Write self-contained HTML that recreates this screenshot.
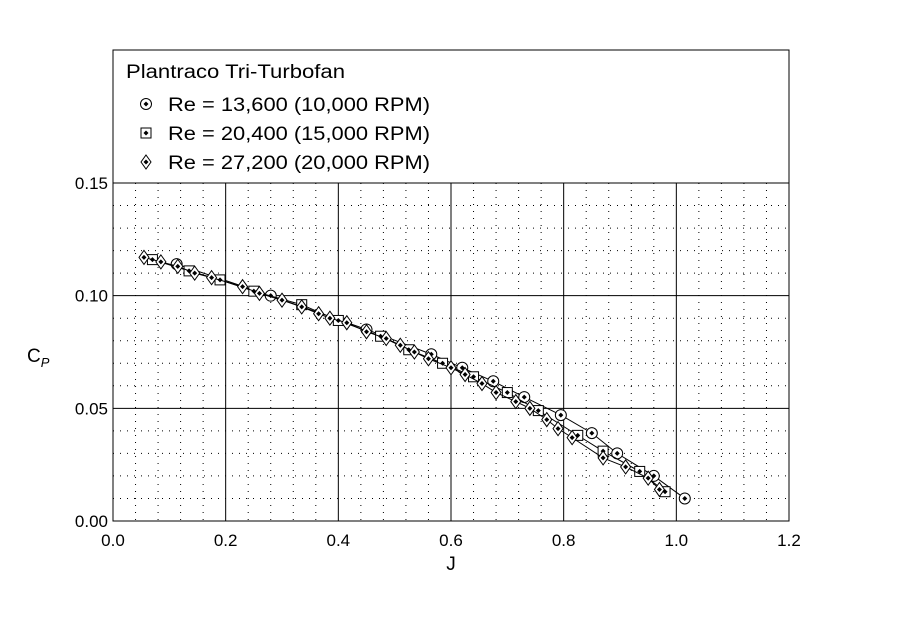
<!DOCTYPE html>
<html><head><meta charset="utf-8"><style>
body{margin:0;background:#fff;}
svg{display:block;font-family:"Liberation Sans",Arial,sans-serif;}
</style></head><body>
<svg id="chart" width="900" height="633" viewBox="0 0 900 633" xmlns="http://www.w3.org/2000/svg">
<rect width="900" height="633" fill="#fff"/>
<g id="grid"></g>
<g id="series"></g>
<g id="axes"></g>
<rect x="113" y="50" width="676" height="133" fill="#fff" stroke="#000" stroke-width="1"/>
<text x="126" y="78" font-size="19" textLength="219" lengthAdjust="spacingAndGlyphs">Plantraco Tri-Turbofan</text>
<g id="legend"></g>
<text x="451" y="570" font-size="19" text-anchor="middle">J</text>
<text x="27" y="362" font-size="19">C<tspan font-size="13" font-style="italic" dy="5">P</tspan></text>
</svg>
<script>
const xTicks=[0.0,0.2,0.4,0.6,0.8,1.0,1.2];
const yTicks=[0.00,0.05,0.10,0.15];
const xTickLabels=["0.0","0.2","0.4","0.6","0.8","1.0","1.2"];
const yTickLabels=["0.00","0.05","0.10","0.15"];
const seriesNames=["Re = 13,600 (10,000 RPM)","Re = 20,400 (15,000 RPM)","Re = 27,200 (20,000 RPM)"];
const j1=[0.113,0.28,0.45,0.565,0.62,0.675,0.73,0.795,0.85,0.895,0.96,1.015];
const cp1=[0.114,0.100,0.085,0.074,0.068,0.062,0.055,0.047,0.039,0.030,0.020,0.010];
const j2=[0.07,0.135,0.19,0.25,0.335,0.40,0.475,0.525,0.585,0.64,0.70,0.755,0.825,0.87,0.935,0.98];
const cp2=[0.116,0.111,0.107,0.102,0.096,0.089,0.082,0.076,0.070,0.064,0.057,0.049,0.038,0.031,0.022,0.013];
const j3=[0.055,0.085,0.115,0.145,0.175,0.23,0.26,0.30,0.335,0.365,0.385,0.415,0.45,0.485,0.51,0.535,0.56,0.60,0.625,0.655,0.68,0.715,0.74,0.77,0.79,0.815,0.87,0.91,0.95,0.97];
const cp3=[0.117,0.115,0.113,0.110,0.108,0.104,0.101,0.098,0.095,0.092,0.090,0.088,0.084,0.081,0.078,0.075,0.072,0.068,0.065,0.061,0.057,0.053,0.050,0.045,0.041,0.037,0.028,0.024,0.019,0.014];

const X0=113,X1=789,Y0=521,Y1=183;
const xs=v=>X0+(v-0)/(1.2)*(X1-X0);
const ys=v=>Y0-(v-0)/(0.15)*(Y0-Y1);
const NS="http://www.w3.org/2000/svg";
function mk(t,a,p){const e=document.createElementNS(NS,t);for(const k in a)e.setAttribute(k,a[k]);p.appendChild(e);return e;}
const grid=document.getElementById('grid'),axes=document.getElementById('axes'),ser=document.getElementById('series'),leg=document.getElementById('legend');
for(let i=1;i<30;i++){if(i%5===0)continue;const x=xs(i*0.04);
 const l=mk('line',{x1:x,x2:x,y1:Y1,y2:Y0,stroke:'#000','stroke-width':1,'stroke-dasharray':'1,6'},grid);
 
 }
for(let i=1;i<15;i++){if(i%5===0)continue;const y=ys(i*0.01);
 const l=mk('line',{x1:X0,x2:X1,y1:y,y2:y,stroke:'#000','stroke-width':1,'stroke-dasharray':'1,6'},grid);
 
 }
xTicks.forEach((v,i)=>{const x=xs(v);
 const l=mk('line',{x1:x,x2:x,y1:Y1,y2:Y0,stroke:'#000','stroke-width':1},grid);
 
 
 const t=mk('text',{x:x,y:Y0+25,'font-size':17,'text-anchor':'middle'},axes);t.textContent=xTickLabels[i];
 
 });
yTicks.forEach((v,i)=>{const y=ys(v);
 const l=mk('line',{x1:X0,x2:X1,y1:y,y2:y,stroke:'#000','stroke-width':1},grid);
 
 
 const t=mk('text',{x:X0-5,y:y+6,'font-size':17,'text-anchor':'end'},axes);t.textContent=yTickLabels[i];
 
 });
const fr=mk('rect',{x:X0,y:Y1,width:X1-X0,height:Y0-Y1,fill:'none',stroke:'#000','stroke-width':1},axes);


function marker(kind,x,y,p){
 const g=mk('g',{},p);
 if(kind===0)mk('circle',{cx:x,cy:y,r:5.5,fill:'#fff',stroke:'#000','stroke-width':1},g);
 else if(kind===1)mk('rect',{x:x-5,y:y-5,width:10,height:10,fill:'#fff',stroke:'#000','stroke-width':1},g);
 else mk('path',{d:`M${x},${y-7}L${x+5},${y}L${x},${y+7}L${x-5},${y}Z`,fill:'#fff',stroke:'#000','stroke-width':1},g);
 mk('path',{d:`M${x},${y-2.5}L${x+2.5},${y}L${x},${y+2.5}L${x-2.5},${y}Z`,fill:'#000'},g);
 return g;}
[[j1,cp1],[j2,cp2],[j3,cp3]].forEach((s,k)=>{
 const pts=s[0].map((v,i)=>xs(v)+','+ys(s[1][i])).join(' ');
 const pl=mk('polyline',{points:pts,fill:'none',stroke:'#000','stroke-width':1},ser);
 
 
 s[0].forEach((v,i)=>{const m=marker(k,xs(v),ys(s[1][i]),ser);
  
  });
 const ly=104+k*29;
 const lm=marker(k,146,ly,leg);
 
 
 const t=mk('text',{x:168,y:ly+7,'font-size':19,textLength:262,lengthAdjust:'spacingAndGlyphs'},leg);t.textContent=seriesNames[k];
 
 
});
</script>
</body></html>
